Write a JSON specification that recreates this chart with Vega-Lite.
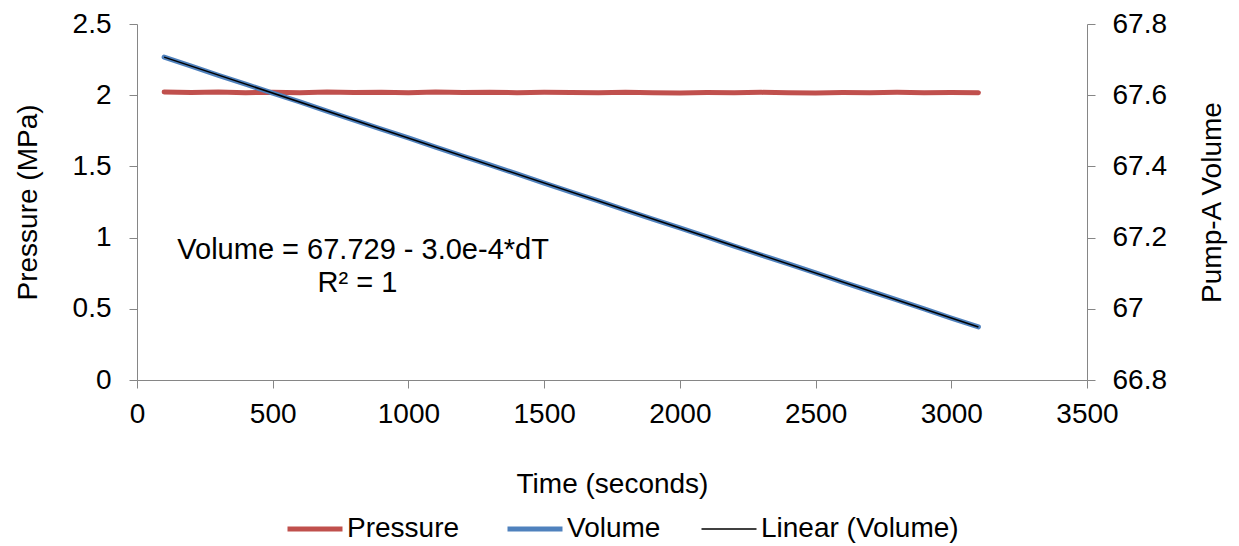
{
  "$schema": "https://vega.github.io/schema/vega-lite/v6.json",
  "width": 950,
  "height": 356,
  "autosize": {"type": "none"},
  "padding": {"left": 137, "top": 24, "right": 152, "bottom": 166},
  "background": "white",
  "config": {
    "view": {"stroke": null},
    "font": "Liberation Sans",
    "axis": {
      "grid": false,
      "domainColor": "#868686",
      "tickColor": "#868686",
      "tickSize": 8,
      "labelFont": "Liberation Sans",
      "labelFontSize": 28,
      "labelColor": "#000000",
      "titleFont": "Liberation Sans",
      "titleFontSize": 28,
      "titleFontWeight": "normal",
      "titleColor": "#000000"
    },
    "legend": {
      "labelFont": "Liberation Sans",
      "labelFontSize": 28,
      "labelColor": "#000000"
    }
  },
  "datasets": {
    "pressure": [
      {"t": 100, "pressure": 2.022, "series": "Pressure"},
      {"t": 200, "pressure": 2.019, "series": "Pressure"},
      {"t": 300, "pressure": 2.023, "series": "Pressure"},
      {"t": 400, "pressure": 2.018, "series": "Pressure"},
      {"t": 500, "pressure": 2.021, "series": "Pressure"},
      {"t": 600, "pressure": 2.017, "series": "Pressure"},
      {"t": 700, "pressure": 2.022, "series": "Pressure"},
      {"t": 800, "pressure": 2.019, "series": "Pressure"},
      {"t": 900, "pressure": 2.021, "series": "Pressure"},
      {"t": 1000, "pressure": 2.018, "series": "Pressure"},
      {"t": 1100, "pressure": 2.022, "series": "Pressure"},
      {"t": 1200, "pressure": 2.019, "series": "Pressure"},
      {"t": 1300, "pressure": 2.021, "series": "Pressure"},
      {"t": 1400, "pressure": 2.018, "series": "Pressure"},
      {"t": 1500, "pressure": 2.020, "series": "Pressure"},
      {"t": 1600, "pressure": 2.019, "series": "Pressure"},
      {"t": 1700, "pressure": 2.017, "series": "Pressure"},
      {"t": 1800, "pressure": 2.020, "series": "Pressure"},
      {"t": 1900, "pressure": 2.018, "series": "Pressure"},
      {"t": 2000, "pressure": 2.016, "series": "Pressure"},
      {"t": 2100, "pressure": 2.019, "series": "Pressure"},
      {"t": 2200, "pressure": 2.018, "series": "Pressure"},
      {"t": 2300, "pressure": 2.020, "series": "Pressure"},
      {"t": 2400, "pressure": 2.018, "series": "Pressure"},
      {"t": 2500, "pressure": 2.016, "series": "Pressure"},
      {"t": 2600, "pressure": 2.019, "series": "Pressure"},
      {"t": 2700, "pressure": 2.018, "series": "Pressure"},
      {"t": 2800, "pressure": 2.020, "series": "Pressure"},
      {"t": 2900, "pressure": 2.018, "series": "Pressure"},
      {"t": 3000, "pressure": 2.019, "series": "Pressure"},
      {"t": 3100, "pressure": 2.018, "series": "Pressure"}
    ],
    "volume": [
      {"t": 100, "volume": 67.707, "series": "Volume"},
      {"t": 200, "volume": 67.682, "series": "Volume"},
      {"t": 300, "volume": 67.656, "series": "Volume"},
      {"t": 400, "volume": 67.631, "series": "Volume"},
      {"t": 500, "volume": 67.606, "series": "Volume"},
      {"t": 600, "volume": 67.581, "series": "Volume"},
      {"t": 700, "volume": 67.555, "series": "Volume"},
      {"t": 800, "volume": 67.530, "series": "Volume"},
      {"t": 900, "volume": 67.505, "series": "Volume"},
      {"t": 1000, "volume": 67.480, "series": "Volume"},
      {"t": 1100, "volume": 67.454, "series": "Volume"},
      {"t": 1200, "volume": 67.429, "series": "Volume"},
      {"t": 1300, "volume": 67.404, "series": "Volume"},
      {"t": 1400, "volume": 67.379, "series": "Volume"},
      {"t": 1500, "volume": 67.353, "series": "Volume"},
      {"t": 1600, "volume": 67.328, "series": "Volume"},
      {"t": 1700, "volume": 67.303, "series": "Volume"},
      {"t": 1800, "volume": 67.277, "series": "Volume"},
      {"t": 1900, "volume": 67.252, "series": "Volume"},
      {"t": 2000, "volume": 67.227, "series": "Volume"},
      {"t": 2100, "volume": 67.202, "series": "Volume"},
      {"t": 2200, "volume": 67.176, "series": "Volume"},
      {"t": 2300, "volume": 67.151, "series": "Volume"},
      {"t": 2400, "volume": 67.126, "series": "Volume"},
      {"t": 2500, "volume": 67.101, "series": "Volume"},
      {"t": 2600, "volume": 67.075, "series": "Volume"},
      {"t": 2700, "volume": 67.050, "series": "Volume"},
      {"t": 2800, "volume": 67.025, "series": "Volume"},
      {"t": 2900, "volume": 67.000, "series": "Volume"},
      {"t": 3000, "volume": 66.974, "series": "Volume"},
      {"t": 3100, "volume": 66.949, "series": "Volume"}
    ],
    "notes": [
      {"t": 833, "y": 0.91, "label": "Volume = 67.729 - 3.0e-4*dT"},
      {"t": 812, "y": 0.68, "label": "R² = 1"}
    ]
  },
  "encoding": {
    "x": {
      "field": "t",
      "type": "quantitative",
      "scale": {"domain": [0, 3500], "nice": false},
      "axis": {
        "title": "Time (seconds)",
        "values": [0, 500, 1000, 1500, 2000, 2500, 3000, 3500],
        "format": "d",
        "labelPadding": 12,
        "titlePadding": 42,
        "labelFlush": false
      }
    }
  },
  "layer": [
    {
      "layer": [
        {
          "data": {"name": "pressure"},
          "mark": {"type": "line", "strokeCap": "round", "strokeWidth": 5},
          "encoding": {
            "y": {
              "field": "pressure",
              "type": "quantitative",
              "scale": {"domain": [0, 2.5], "nice": false},
              "axis": {
                "title": "Pressure (MPa)",
                "orient": "left",
                "values": [0, 0.5, 1, 1.5, 2, 2.5],
                "format": "~g",
                "labelPadding": 18,
                "titlePadding": 30,
                "labelFlush": false
              }
            },
            "color": {
              "field": "series",
              "type": "nominal",
              "scale": {
                "domain": ["Pressure", "Volume", "Linear (Volume)"],
                "range": ["#C0504D", "#4F81BD", "#000000"]
              },
              "legend": {
                "title": null,
                "orient": "none",
                "direction": "horizontal",
                "legendX": 164,
                "legendY": 491,
                "symbolType": "stroke",
                "symbolSize": 3025,
                "symbolStrokeWidth": 5,
                "labelOffset": 18,
                "columnPadding": 37,
                "labelFontSize": 28,
                "labelLimit": 400,
                "encode": {
                  "symbols": {
                    "update": {
                      "strokeWidth": {"signal": "datum.value === 'Linear (Volume)' ? 1.5 : 5"}
                    }
                  }
                }
              }
            }
          }
        },
        {
          "data": {"name": "notes"},
          "mark": {"type": "text", "font": "Liberation Sans", "fontSize": 29, "color": "#000000", "align": "center", "baseline": "middle"},
          "encoding": {
            "x": {"field": "t", "type": "quantitative"},
            "y": {"field": "y", "type": "quantitative"},
            "text": {"field": "label"}
          }
        }
      ]
    },
    {
      "layer": [
        {
          "data": {"name": "volume"},
          "mark": {"type": "line", "strokeCap": "round", "strokeWidth": 5},
          "encoding": {
            "y": {
              "field": "volume",
              "type": "quantitative",
              "scale": {"domain": [66.8, 67.8], "nice": false, "zero": false},
              "axis": {
                "title": "Pump-A Volume",
                "orient": "right",
                "values": [66.8, 67, 67.2, 67.4, 67.6, 67.8],
                "format": "~g",
                "labelPadding": 17,
                "titlePadding": 60,
                "titleAngle": 270,
                "labelFlush": false
              }
            },
            "color": {"field": "series", "type": "nominal"}
          }
        },
        {
          "data": {"name": "volume"},
          "transform": [{"regression": "volume", "on": "t"}],
          "mark": {"type": "line", "strokeWidth": 1.5},
          "encoding": {
            "y": {"field": "volume", "type": "quantitative"},
            "color": {"datum": "Linear (Volume)"}
          }
        }
      ]
    }
  ],
  "resolve": {"scale": {"y": "independent"}}
}
